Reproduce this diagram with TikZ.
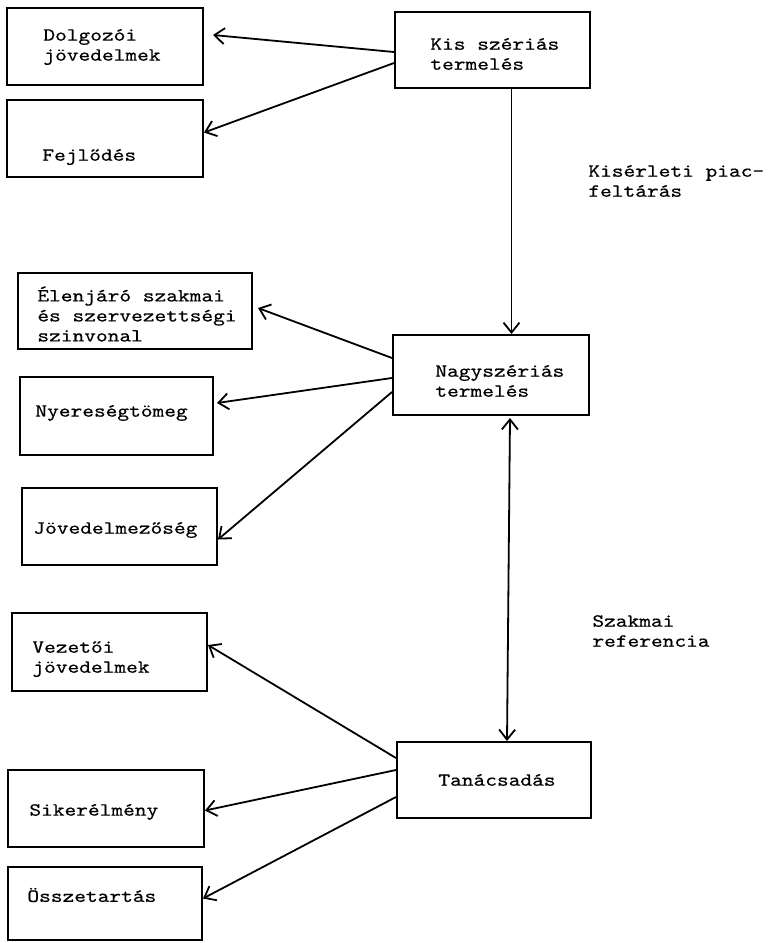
\documentclass[tikz,border=0pt]{standalone}
\usepackage{fontspec}
\newfontfamily\typewr[FakeStretch=1.2,FakeBold=0.45]{lmmono10-regular.otf}
\usetikzlibrary{arrows.meta}
\newlength{\unitpx}
\setlength{\unitpx}{0.5pt}

\begin{document}
\begin{tikzpicture}[x=0.5pt,y=-0.5pt,
    box/.style={draw,line width=1pt,inner sep=0pt,minimum width=196\unitpx,minimum height=77\unitpx},
    txt/.style={font=\typewr\fontsize{9.3}{10}\selectfont,anchor=west,align=left,inner sep=0pt},
    arr/.style={line width=.9pt},
    >={Straight Barb[length=5pt,width=8pt]}]
        \useasboundingbox (0,0) rectangle (778,943);
        \node[box] (dolg) at (105,46) {};
        \node[box] (fejl) at (105,138.5) {};
        \node[box,minimum width=195\unitpx,minimum height=76\unitpx] (kis) at (492.5,50) {};
        \node[box,minimum width=234\unitpx,minimum height=76\unitpx] (elen) at (135,311) {};
        \node[box,minimum width=193\unitpx,minimum height=78\unitpx] (nyer) at (116.5,416) {};
        \node[box,minimum width=195\unitpx] (jov) at (119.5,526.5) {};
        \node[box,minimum height=80\unitpx] (nagy) at (491,375) {};
        \node[box,minimum width=195\unitpx,minimum height=78\unitpx] (vez) at (109.5,652) {};
        \node[box] (sik) at (106,808.5) {};
        \node[box,minimum width=194\unitpx,minimum height=73\unitpx] (ossz) at (105,903.5) {};
        \node[box,minimum width=194\unitpx,minimum height=76\unitpx] (tan) at (494,780) {};
        \node[txt] (dolg-t) at (43,47) {Dolgozói\\jövedelmek};
        \node[txt] (fejl-t) at (42,157) {Fejlődés};
        \node[txt] (kis-t) at (430,54) {Kis szériás\\termelés};
        \node[txt] (elen-t) at (37,314) {Élenjáró szakmai\\és szervezettségi\\szinvonal};
        \node[txt] (nyer-t) at (35,413) {Nyereségtömeg};
        \node[txt] (jov-t) at (33,530) {Jövedelmezőség};
        \node[txt] (nagy-t) at (435,381) {Nagyszériás\\termelés};
        \node[txt] (vez-t) at (32,659) {Vezetői\\jövedelmek};
        \node[txt] (sik-t) at (29,812) {Sikerélmény};
        \node[txt] (ossz-t) at (27,895) {Összetartás};
        \node[txt] (tan-t) at (438,780) {Tanácsadás};
        \node[txt] (kiserl) at (588,181) {Kisérleti piac-\\feltárás};
        \node[txt] (szref) at (592,631) {Szakmai\\referencia};
        \draw[arr,->] ([yshift=-2\unitpx]kis.west) -- ([xshift=9\unitpx,yshift=11\unitpx]dolg.east);
        \draw[arr,->] ([yshift=-13\unitpx]kis.west) -- ([yshift=6\unitpx]fejl.east);
        \draw[arr,->] ([xshift=19\unitpx]kis.south) -- ([xshift=19\unitpx]kis.south |- nagy.north);
        \draw[arr,->] ([yshift=17\unitpx]nagy.west) -- ([xshift=5\unitpx,yshift=3\unitpx]elen.east);
        \draw[arr,->] ([yshift=-3\unitpx]nagy.west) -- ([xshift=3\unitpx,yshift=13\unitpx]nyer.east);
        \draw[arr,->] ([yshift=-17\unitpx]nagy.west) -- ([yshift=-13\unitpx]jov.east);
        \draw[arr,<->] ([xshift=19\unitpx,yshift=-2\unitpx]nagy.south) -- ([xshift=13\unitpx]tan.north);
        \draw[arr,->] ([yshift=22\unitpx]tan.west) -- ([yshift=7\unitpx]vez.east);
        \draw[arr,->] ([yshift=10\unitpx]tan.west) -- ([yshift=-2\unitpx]sik.east);
        \draw[arr,->] ([yshift=-17\unitpx]tan.west) -- ([yshift=5\unitpx]ossz.east);
    \end{tikzpicture}
\end{document}
